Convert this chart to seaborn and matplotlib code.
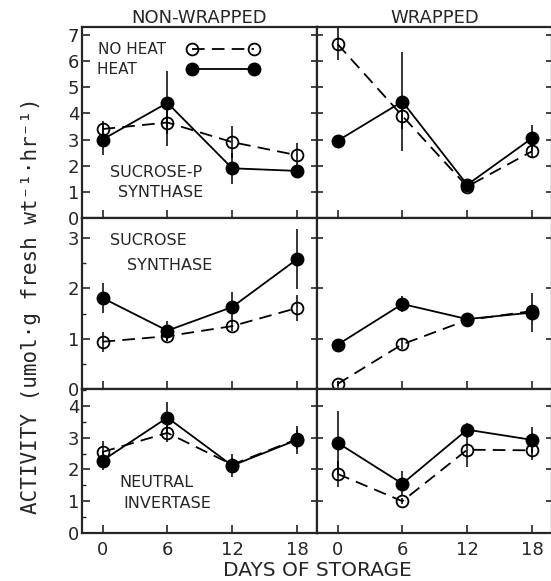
import numpy as np
import pandas as pd
import matplotlib
matplotlib.use("Agg")
import matplotlib.pyplot as plt
import seaborn as sns
from matplotlib.lines import Line2D
from matplotlib.ticker import MultipleLocator

days = [0, 6, 12, 18]
wraps = ["NON-WRAPPED", "WRAPPED"]
enzymes = ["SPS", "SS", "NI"]

# sucrose-P synthase
sps_nw_noheat = [3.4, 3.65, 2.9, 2.4]
sps_nw_noheat_err = [0.3, 0.9, 0.6, 0.45]
sps_nw_heat = [3.0, 4.4, 1.9, 1.8]
sps_nw_heat_err = [0.6, 1.2, 0.6, 0.15]
sps_w_noheat = [6.65, 3.9, 1.2, 2.55]
sps_w_noheat_err = [0.6, 0.5, 0.1, 0.2]
sps_w_heat = [2.95, 4.45, 1.27, 3.05]
sps_w_heat_err = [0.1, 1.9, 0.1, 0.5]

# sucrose synthase
ss_nw_noheat = [0.94, 1.05, 1.25, 1.61]
ss_nw_noheat_err = [0.2, 0.1, 0.1, 0.25]
ss_nw_heat = [1.81, 1.16, 1.63, 2.58]
ss_nw_heat_err = [0.3, 0.2, 0.3, 0.6]
ss_w_noheat = [0.1, 0.89, 1.37, 1.55]
ss_w_noheat_err = [0.05, 0.1, 0.1, 0.1]
ss_w_heat = [0.88, 1.69, 1.39, 1.52]
ss_w_heat_err = [0.1, 0.15, 0.12, 0.38]

# neutral invertase
ni_nw_noheat = [2.55, 3.15, 2.15, 2.95]
ni_nw_noheat_err = [0.35, 0.3, 0.2, 0.3]
ni_nw_heat = [2.28, 3.63, 2.12, 2.93]
ni_nw_heat_err = [0.3, 0.5, 0.35, 0.45]
ni_w_noheat = [1.86, 1.0, 2.62, 2.6]
ni_w_noheat_err = [0.4, 0.1, 0.55, 0.3]
ni_w_heat = [2.84, 1.55, 3.25, 2.93]
ni_w_heat_err = [1.0, 0.4, 0.2, 0.4]

series = {
    ("SPS", "NON-WRAPPED"): (sps_nw_noheat, sps_nw_noheat_err, sps_nw_heat, sps_nw_heat_err),
    ("SPS", "WRAPPED"): (sps_w_noheat, sps_w_noheat_err, sps_w_heat, sps_w_heat_err),
    ("SS", "NON-WRAPPED"): (ss_nw_noheat, ss_nw_noheat_err, ss_nw_heat, ss_nw_heat_err),
    ("SS", "WRAPPED"): (ss_w_noheat, ss_w_noheat_err, ss_w_heat, ss_w_heat_err),
    ("NI", "NON-WRAPPED"): (ni_nw_noheat, ni_nw_noheat_err, ni_nw_heat, ni_nw_heat_err),
    ("NI", "WRAPPED"): (ni_w_noheat, ni_w_noheat_err, ni_w_heat, ni_w_heat_err),
}

rows = []
for (enz, wrap), (nh, nh_e, h, h_e) in series.items():
    for d, v, e in zip(days, nh, nh_e):
        rows.append((enz, wrap, "NO HEAT", d, v, e))
    for d, v, e in zip(days, h, h_e):
        rows.append((enz, wrap, "HEAT", d, v, e))
df = pd.DataFrame(rows, columns=["enzyme", "wrap", "treatment", "day", "activity", "err"])

ylims = {"SPS": 7.3, "SS": 3.4, "NI": 4.53}
yticks = {"SPS": range(0, 8), "SS": range(0, 4), "NI": range(0, 5)}
labels = {
    "SPS": [("SUCROSE-P", 0.12, 0.215), ("SYNTHASE", 0.155, 0.11)],
    "SS": [("SUCROSE", 0.12, 0.842), ("SYNTHASE", 0.19, 0.696)],
    "NI": [("NEUTRAL", 0.16, 0.32), ("INVERTASE", 0.175, 0.174)],
}

sns.set_style("ticks")
plt.rcParams["font.family"] = ["DejaVu Sans"]
plt.rcParams["axes.linewidth"] = 1.6

W, H = 551, 581
fig = plt.figure(figsize=(W / 100, H / 100), dpi=100)

# panel edges in pixels
xs = {"NON-WRAPPED": (82, 317), "WRAPPED": (317, 552)}
ys = {"SPS": (27, 218), "SS": (218, 389), "NI": (389, 533)}

style_nh = dict(color="black", lw=1.3, linestyle=(0, (7, 4)), marker="o", markersize=8.5,
                markerfacecolor="none", markeredgecolor="black", markeredgewidth=1.3)
style_h = dict(color="black", lw=1.3, linestyle="-", marker="o", markersize=9,
               markerfacecolor="black", markeredgecolor="black", markeredgewidth=1.0)

for enz in enzymes:
    for wrap in wraps:
        x0, x1 = xs[wrap]
        y0, y1 = ys[enz]
        ax = fig.add_axes([x0 / W, 1 - y1 / H, (x1 - x0) / W, (y1 - y0) / H])
        sub = df[(df.enzyme == enz) & (df.wrap == wrap)]
        for trt, st in [("NO HEAT", style_nh), ("HEAT", style_h)]:
            s = sub[sub.treatment == trt]
            ax.errorbar(s.day, s.activity, yerr=s.err, fmt="none", ecolor="black",
                        elinewidth=1.1, capsize=0)
            sns.lineplot(data=s, x="day", y="activity", ax=ax, errorbar=None,
                         legend=False, **st)
        ax.set_xlim(-1.9, 19.85)
        ax.set_ylim(0, ylims[enz])
        ax.set_xticks(days)
        ax.set_yticks(list(yticks[enz]))
        ax.set_xlabel("")
        ax.set_ylabel("")
        ax.tick_params(axis="x", direction="in", length=5.5, width=1.2, top=False,
                       labelbottom=(enz == "NI"), labelsize=13, pad=6)
        if wrap == "NON-WRAPPED":
            ax.tick_params(axis="y", direction="in", length=5.5, width=1.2,
                           labelsize=13, pad=2)
            if enz != "SPS":
                ax.yaxis.set_minor_locator(MultipleLocator(0.5))
                ax.tick_params(axis="y", which="minor", direction="in", length=3, width=1.0)
            for txt, tx, ty in labels[enz]:
                ax.text(tx, ty, txt, transform=ax.transAxes, fontsize=11.5)
        else:
            ax.tick_params(axis="y", direction="inout", length=8.5, width=1.2,
                           labelleft=False, right=True)
        if enz == "SPS":
            ax.set_title(wrap, fontsize=13, pad=1)
            if wrap == "NON-WRAPPED":
                handles = [Line2D([], [], **style_nh), Line2D([], [], **style_h)]
                ax.legend(handles, ["NO HEAT", "HEAT      "], loc="upper left",
                          bbox_to_anchor=(0.03, 0.96), frameon=False, numpoints=2,
                          markerfirst=False, handlelength=4.7, handletextpad=1.4,
                          labelspacing=0.3, fontsize=11, borderpad=0)

fig.text(31 / W, 1 - 306 / H, "ACTIVITY (umol·g fresh wt\u207b\u00b9·hr\u207b\u00b9)",
         rotation=90, ha="center", va="center", fontsize=15,
         family=["DejaVu Sans Mono", "DejaVu Sans"])
fig.text(317 / W, 1 - 570 / H, "DAYS OF STORAGE", ha="center", va="center", fontsize=14.5)

fig.savefig("out.png", dpi=100)
